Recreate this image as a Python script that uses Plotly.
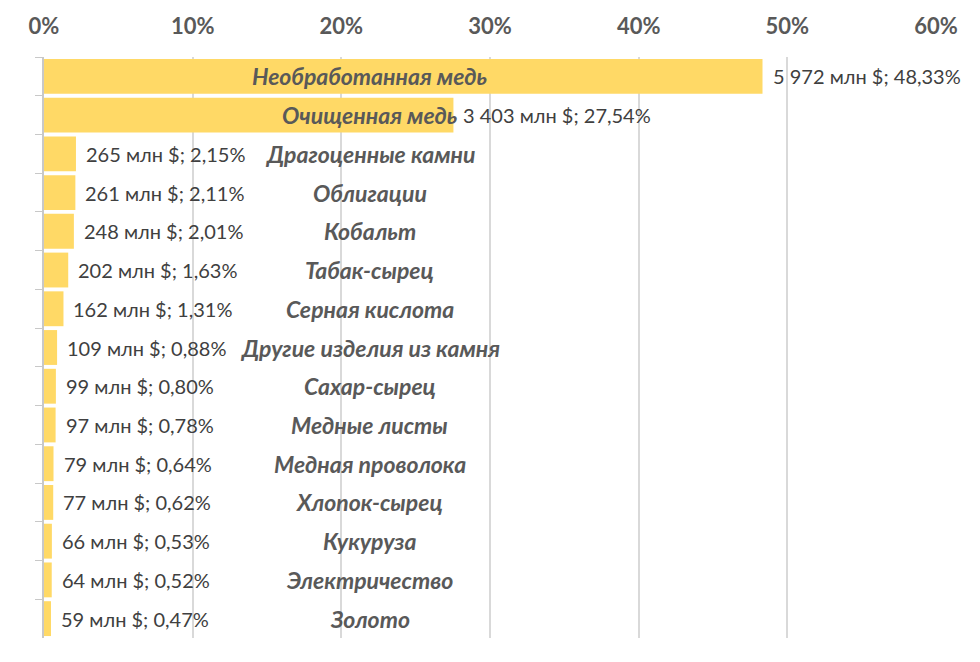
import plotly.graph_objects as go

# export structure, top to bottom
categories = [
    "Необработанная медь", "Очищенная медь", "Драгоценные камни", "Облигации",
    "Кобальт", "Табак-сырец", "Серная кислота", "Другие изделия из камня",
    "Сахар-сырец", "Медные листы", "Медная проволока", "Хлопок-сырец",
    "Кукуруза", "Электричество", "Золото",
]
value_mln = [5972, 3403, 265, 261, 248, 202, 162, 109, 99, 97, 79, 77, 66, 64, 59]
share_pct = [48.33, 27.54, 2.15, 2.11, 2.01, 1.63, 1.31, 0.88, 0.80, 0.78, 0.64, 0.62, 0.53, 0.52, 0.47]
x_ticks = [0, 10, 20, 30, 40, 50, 60]

NAME_X = 21.9  # where the category names sit, in % units

def value_label(v, p):
    return f"{v:,}".replace(",", " ") + " млн $; " + f"{p:.2f}".replace(".", ",") + "%"

labels = [value_label(v, p) for v, p in zip(value_mln, share_pct)]

fig = go.Figure()
fig.add_trace(
    go.Bar(
        x=share_pct,
        y=categories,
        orientation="h",
        marker_color="#FFD966",
        marker_line_width=0,
        hoverinfo="skip",
    )
)

for cat, p, lab in zip(categories, share_pct, labels):
    fig.add_annotation(
        x=p, y=cat, text=lab, showarrow=False,
        xanchor="left", xshift=8,
        font=dict(family="Lato", size=20, color="#404040"),
    )
    fig.add_annotation(
        x=NAME_X, y=cat, text=f"<b><i>{cat}</i></b>", showarrow=False,
        xanchor="center",
        font=dict(family="Lato", size=23, color="#595959"),
    )

# page body has an 8px margin, so the plot area is shifted back by that much
fig.update_layout(
    width=980,
    height=662,
    margin=dict(l=36, r=52, t=49, b=32, autoexpand=False),
    plot_bgcolor="white",
    paper_bgcolor="white",
    bargap=0.1,
    showlegend=False,
)
fig.update_xaxes(
    side="top",
    range=[0, 60],
    tickvals=x_ticks,
    ticktext=[f"<b>{t}%</b>" for t in x_ticks],
    tickfont=dict(family="Lato", size=22, color="#595959"),
    showgrid=True,
    gridcolor="#D9D9D9",
    gridwidth=1.5,
    zeroline=False,
    showline=False,
    ticks="",
    ticklabelstandoff=18,
    automargin=False,
)
fig.update_yaxes(
    autorange="reversed",
    showticklabels=False,
    showline=True,
    linecolor="#C8C8C8",
    linewidth=1.5,
    ticks="outside",
    tickson="boundaries",
    ticklen=7,
    tickcolor="#C8C8C8",
    showgrid=False,
    automargin=False,
)

fig.write_html("out.html")
